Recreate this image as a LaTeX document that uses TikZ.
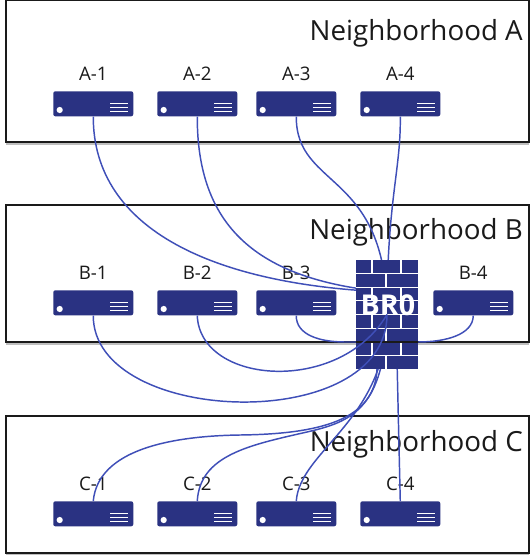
\documentclass[tikz,border=0pt]{standalone}
\usepackage{fontspec}
\setmainfont{Open Sans}
\definecolor{srv}{HTML}{2A3282}
\definecolor{wire}{HTML}{3F4FB8}
\definecolor{edge}{HTML}{1A1A1A}
\tikzset{
  zone/.style={draw=edge,line width=1.5pt,fill=white},
  zoneshade/.style={draw=black!25,line width=1.2pt},
  zonetitle/.style={anchor=east,font=\fontsize{20.8}{24}\selectfont,text=edge,inner sep=0pt},
  srvbox/.style={fill=srv,rounded corners=1.6pt,minimum width=60pt,minimum height=18.8pt,inner sep=0pt,anchor=north west},
  srvlabel/.style={font=\fontsize{14}{16}\selectfont,text=edge,inner sep=0pt},
  srvmark/.style={draw=white,line width=0.95pt},
  link/.style={draw=wire,line width=1.1pt},
  brick/.style={draw=white,line width=0.8pt},
  fwbox/.style={fill=srv,minimum width=46.5pt,minimum height=81.75pt,inner sep=0pt},
}
\newcommand{\srvnode}[4]{%
  \node[srvbox] (#1) at (#2,#3) {};
  \node[srvlabel] (#1l) at ($(#1.north)+(0,-17)$) {#4};
  \fill[white] ($(#1.north west)+(6.7,19)$) circle (3.1);
  \foreach \dy in {12.6,16.6,20.6}
    \draw[srvmark] ($(#1.north west)+(57,\dy)$) -- ++(18,0);
}
\usetikzlibrary{calc}
\begin{document}
\begin{tikzpicture}[x=0.75pt,y=-0.75pt]
\useasboundingbox (0,0) rectangle (530,555);
% neighbourhoods
\draw[zoneshade] (6,144) -- (529,144);
\draw[zoneshade] (6,344) -- (529,344);
\draw[zoneshade] (6,555) -- (529,555);
\draw[zone] (6,0) rectangle (529,142);
\draw[zone] (6,205) rectangle (529,342);
\draw[zone] (6,416) rectangle (529,553);
\node[zonetitle] (ta) at (523,33) {Neighborhood A};
\node[zonetitle] (tb) at (523,232) {Neighborhood B};
\node[zonetitle] (tc) at (523,444) {Neighborhood C};
% servers
\srvnode{a1}{53}{91}{A-1}
\srvnode{a2}{157}{91}{A-2}
\srvnode{a3}{256}{91}{A-3}
\srvnode{a4}{360}{91}{A-4}
\srvnode{b1}{53}{290}{B-1}
\srvnode{b2}{157}{290}{B-2}
\srvnode{b3}{256}{290}{B-3}
\srvnode{b4}{433}{290}{B-4}
\srvnode{c1}{53}{501}{C-1}
\srvnode{c2}{157}{501}{C-2}
\srvnode{c3}{256}{501}{C-3}
\srvnode{c4}{360}{501}{C-4}
\coordinate (fwc) at (387,314.5);
\coordinate (endA) at (387,292);
\coordinate (endB) at (380,342);
\coordinate (endC) at (377,369);
\coordinate (endD) at (397,360);
% links behind the firewall
\draw[link] (a1.south) .. controls (93,230) and (215,285) .. (endA);
\draw[link] (a2.south) .. controls (197,225) and (255,280) .. (endA);
\draw[link] (a3.south) .. controls (296,190) and (387,170) .. (fwc);
\draw[link] (a4.south) .. controls (401,170) and (387,200) .. (fwc);
\draw[link] (b3.south) .. controls (296,335) and (320,342) .. (345,342) -- (endB);
\draw[link] (b4.south) .. controls (473,335) and (445,342) .. (418,342) -- (endB);
\draw[link] (c1.north) .. controls (98,450) and (170,436) .. (240,435) .. controls (320,434) and (375,420) .. (endC);
\draw[link] (c2.north) .. controls (200,455) and (250,445) .. (307,432) .. controls (350,422) and (385,410) .. (fwc);
\draw[link] (c3.north) .. controls (300,450) and (387,420) .. (fwc);
\draw[link] (c4.north) -- (endD);
% firewall
\node[fwbox] (fw) at (387,314.5) {};
\foreach \r in {273.6,287.2,300.9,314.5,328.1,341.8,355.4}
  \draw[brick] (356,\r) -- (418,\r);
\foreach \t/\b in {260/273.6,287.2/300.9,314.5/328.1,341.8/355.4}
  \foreach \vx in {372,401}
    \draw[brick] (\vx,\t) -- (\vx,\b);
\foreach \t/\b in {273.6/287.2,300.9/314.5,328.1/341.8,355.4/369}
  \draw[brick] (386,\t) -- (386,\b);
\draw[edge,line width=1.5pt] (356,342) -- (418,342);
\node[font=\bfseries\fontsize{21.5}{24}\selectfont,text=white,inner sep=0pt] (br) at (388,305) {BR0};
% links in front of the firewall
\draw[link] (b1.south) .. controls (93,426) and (387,436) .. (fwc);
\draw[link] (b2.south) .. controls (200,385) and (340,395) .. (fwc);
\end{tikzpicture}
\end{document}
